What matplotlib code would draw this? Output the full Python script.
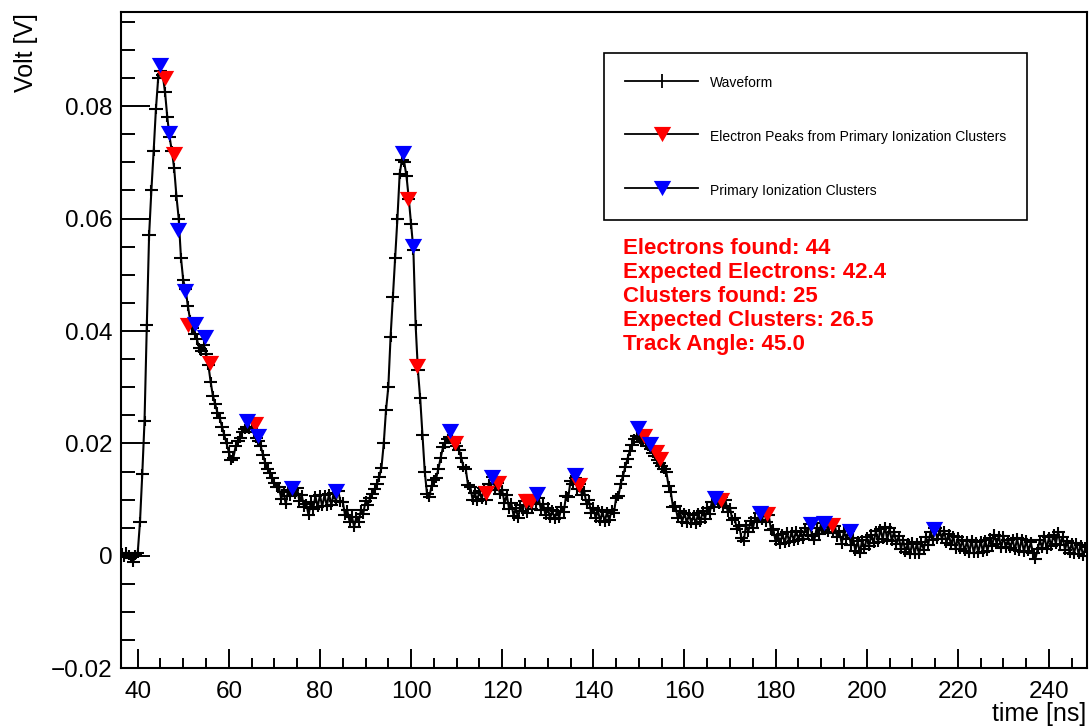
import numpy as np
import matplotlib.pyplot as plt
from matplotlib.lines import Line2D
from matplotlib.ticker import MultipleLocator, FixedLocator, FixedFormatter

plt.rcParams['font.family'] = ['Liberation Sans', 'DejaVu Sans']

# digitizer sampling (ns)
t_start = 36.0
t_step = 0.5

# waveform amplitude in mV, one row per 5 ns starting at t_start
wave_mv = [
    0.3, 0.5, -0.2, 0.6, 0.1, -0.4, -1.1, 0.2, 0.5, 6.0,
    14.5, 24.0, 41.0, 57.0, 65.0, 72.0, 79.5, 85.0, 86.3, 85.5,
    82.5, 78.0, 74.5, 72.0, 69.0, 64.0, 60.0, 53.0, 49.0, 47.5,
    44.5, 42.0, 40.5, 39.5, 38.5, 37.0, 36.5, 37.5, 36.0, 34.0,
    31.0, 28.5, 27.0, 25.5, 24.5, 23.0, 21.5, 20.0, 18.5, 17.0,
    17.5, 19.5, 20.5, 21.0, 22.0, 22.5, 23.0, 22.5, 22.8, 22.0,
    21.0, 20.5, 19.5, 18.0, 16.5, 15.5, 14.8, 13.8, 13.0, 12.2,
    12.2, 10.2, 11.3, 9.2, 11.7, 10.7, 11.8, 11.0, 12.0, 9.7,
    10.8, 8.7, 9.3, 7.2, 9.6, 8.4, 10.6, 8.7, 10.8, 8.8,
    10.8, 8.9, 11.0, 9.0, 11.1, 9.8, 11.6, 9.6, 9.6, 7.3,
    8.1, 6.1, 7.0, 5.2, 6.9, 6.1, 8.2, 7.5, 9.7, 9.1,
    10.3, 11.0, 11.9, 12.8, 14.0, 15.7, 20.0, 26.0, 30.0, 39.0,
    46.0, 53.0, 60.0, 68.0, 70.5, 70.0, 67.5, 63.5, 59.0, 54.5,
    41.0, 33.0, 28.0, 21.5, 15.0, 11.0, 10.5, 12.5, 13.5, 13.8,
    15.5, 17.5, 19.3, 20.0, 20.8, 21.2, 21.0, 20.0, 19.5, 18.8,
    17.5, 15.8, 15.4, 12.6, 12.3, 10.0, 11.2, 9.7, 11.6, 10.1,
    12.0, 10.0, 12.7, 12.3, 14.0, 11.7, 13.0, 11.0, 11.7, 9.4,
    10.8, 8.4, 9.4, 7.1, 8.5, 6.7, 9.0, 8.0, 9.8, 7.7,
    9.6, 8.4, 10.6, 9.2, 10.3, 8.2, 9.2, 7.2, 8.6, 6.7,
    8.1, 6.6, 8.0, 6.8, 8.7, 7.8, 10.6, 10.4, 13.4, 12.7,
    13.9, 11.9, 12.7, 10.8, 11.5, 9.2, 9.9, 7.7, 8.6, 6.7,
    8.1, 6.2, 7.9, 6.1, 7.8, 6.3, 8.2, 7.6, 10.3, 10.6,
    12.8, 14.2, 15.8, 17.3, 18.7, 19.8, 20.8, 21.3, 21.0, 20.3,
    20.5, 20.0, 19.6, 19.0, 18.3, 17.8, 17.0, 16.5, 16.0, 15.4,
    15.0, 12.5, 11.3, 8.7, 8.9, 6.8, 7.9, 6.1, 7.7, 5.9,
    7.4, 5.9, 7.2, 5.7, 7.6, 6.0, 8.0, 6.6, 8.6, 7.5,
    9.6, 8.7, 10.6, 9.3, 10.5, 8.8, 9.9, 7.8, 8.5, 6.4,
    6.7, 4.8, 5.3, 3.2, 2.6, 5.5, 4.2, 6.2, 4.9, 6.7,
    6.0, 7.7, 6.4, 7.8, 6.1, 7.2, 4.6, 4.7, 2.6, 3.7,
    2.2, 3.9, 2.3, 4.2, 2.4, 4.3, 2.7, 4.5, 2.9, 4.3,
    3.0, 5.0, 3.8, 5.7, 3.6, 2.8, 4.9, 3.9, 5.8, 4.6,
    6.2, 4.3, 5.9, 4.1, 5.4, 3.4, 4.3, 2.2, 4.4, 3.0,
    4.5, 2.0, 3.1, 0.9, 2.6, 0.6, 2.8, 1.2, 3.3, 1.7,
    3.8, 2.3, 4.4, 2.5, 4.8, 3.0, 5.2, 2.9, 4.9, 2.7,
    4.3, 2.1, 3.5, 1.3, 2.8, 0.7, 2.2, 0.3, 2.4, 0.4,
    2.2, 0.3, 2.5, 1.1, 3.3, 2.0, 4.3, 2.9, 4.9, 3.0,
    4.5, 3.0, 4.4, 2.3, 3.9, 1.9, 3.5, 1.3, 3.3, 1.2,
    2.8, 0.8, 2.7, 0.6, 2.8, 0.5, 2.5, 0.6, 2.7, 0.7,
    2.9, 0.8, 3.1, 1.7, 3.8, 2.2, 3.6, 1.4, 3.5, 1.5,
    2.9, 1.4, 3.0, 1.0, 3.1, 0.9, 3.0, 0.7, 2.8, 0.8,
    2.4, 0.5, -0.6, 1.2, 2.8, 1.4, 3.5, 1.3, 3.3, 1.8,
    3.8, 2.2, 4.3, 2.0, 3.4, 1.1, 2.6, 0.6, 2.3, 0.4,
    2.3, 0.3, 1.9, 0.0, 1.5,
]

# electron peaks from primary ionization clusters (ns, mV)
elec_t = [46.0, 48.0, 51.0, 55.9, 65.7, 99.3, 101.4, 109.6, 116.4, 119.1,
          125.15, 126.4, 136.8, 151.2, 153.8, 154.6, 168.1, 178.1, 192.4]
elec_mv = [85.1, 71.5, 41.0, 34.4, 23.5, 63.5, 33.8, 20.0, 11.1, 13.0,
           9.8, 9.8, 12.6, 21.4, 18.4, 17.2, 10.0, 7.4, 5.5]

# primary ionization clusters (ns, mV)
clus_t = [44.9, 46.9, 48.8, 50.4, 52.5, 54.8, 63.9, 66.4, 73.9, 83.5,
          98.25, 100.4, 108.5, 117.85, 127.7, 135.9, 149.8, 152.5, 166.8,
          176.5, 187.8, 190.7, 196.4, 214.8]
clus_mv = [87.3, 75.2, 57.9, 47.2, 41.3, 39.0, 24.0, 21.4, 12.1, 11.6,
           71.6, 55.2, 22.3, 14.1, 11.0, 14.4, 22.8, 19.9, 10.3,
           7.7, 5.7, 5.9, 4.5, 4.8]

y_ticks = [-0.02, 0.0, 0.02, 0.04, 0.06, 0.08]
y_tick_labels = ['\u22120.02', '0', '0.02', '0.04', '0.06', '0.08']
x_ticks = [40, 60, 80, 100, 120, 140, 160, 180, 200, 220, 240]

legend_labels = ['Waveform',
                 'Electron Peaks from Primary Ionization Clusters',
                 'Primary Ionization Clusters']

stats_lines = ['Electrons found: 44',
               'Expected Electrons: 42.4',
               'Clusters found: 25',
               'Expected Clusters: 26.5',
               'Track Angle: 45.0']

W, H = 1089, 727
fig = plt.figure(figsize=(W / 100, H / 100), dpi=100)
ax = fig.add_axes([120.7 / W, 1 - 668.3 / H, (1087 - 120.7) / W, (668.3 - 12.3) / H])

times = t_start + t_step * np.arange(len(wave_mv))
volts = np.array(wave_mv) / 1000.0

# inverted triangle, slightly flatter than wide
tri = [(-1, 0.875), (1, 0.875), (0, -0.875), (-1, 0.875)]
msize = 12.5

ax.plot(times, volts, color='k', lw=1.5, zorder=2)
ax.errorbar(times, volts, xerr=1.45, yerr=0.0009, fmt='none',
            ecolor='k', elinewidth=1.5, capsize=0, zorder=2)
ax.plot(elec_t, np.array(elec_mv) / 1000.0, ls='none', marker=tri,
        markersize=msize, markerfacecolor='#ff0000', markeredgewidth=0, zorder=3)
ax.plot(clus_t, np.array(clus_mv) / 1000.0, ls='none', marker=tri,
        markersize=msize, markerfacecolor='#0000ff', markeredgewidth=0, zorder=4)

ax.set_xlim(36.27, 248.34)
ax.set_ylim(-0.02, 0.0967)

ax.xaxis.set_major_locator(FixedLocator(x_ticks))
ax.xaxis.set_minor_locator(MultipleLocator(5))
ax.yaxis.set_major_locator(FixedLocator(y_ticks))
ax.yaxis.set_major_formatter(FixedFormatter(y_tick_labels))
ax.yaxis.set_minor_locator(MultipleLocator(0.005))

ax.tick_params(axis='both', which='both', direction='in', width=1.4,
               labelsize=17.5, top=False, right=False)
ax.tick_params(axis='y', which='major', length=21, pad=6)
ax.tick_params(axis='y', which='minor', length=10)
ax.tick_params(axis='x', which='major', length=14, pad=9)
ax.tick_params(axis='x', which='minor', length=7)
for sp in ax.spines.values():
    sp.set_linewidth(1.5)

fig.text(33 / W, 1 - 12.7 / H, 'Volt [V]', rotation=90, rotation_mode='anchor',
         ha='right', va='baseline', fontsize=18)
fig.text(1086 / W, 1 - 721 / H, 'time [ns]', ha='right', va='baseline',
         fontsize=18)

handles = [
    Line2D([], [], color='k', lw=1.3, marker='|', markersize=10,
           markeredgewidth=1.3, markeredgecolor='k'),
    Line2D([], [], color='k', lw=1.3, marker=tri, markersize=msize,
           markerfacecolor='#ff0000', markeredgewidth=0),
    Line2D([], [], color='k', lw=1.3, marker=tri, markersize=msize,
           markerfacecolor='#0000ff', markeredgewidth=0),
]
leg = ax.legend(handles, legend_labels, loc='upper left',
                bbox_to_anchor=(604 / W, 1 - 53 / H), bbox_transform=fig.transFigure,
                borderaxespad=0, fontsize=10, fancybox=False, framealpha=1,
                edgecolor='k', borderpad=1.5, labelspacing=2.58, handleheight=1.6,
                handlelength=5.3, handletextpad=0.85, numpoints=1)
leg.get_frame().set_linewidth(1.2)

baselines = [254.3, 277.8, 302.3, 326.3, 350.3]
for line, b in zip(stats_lines, baselines):
    fig.text(622.7 / W, 1 - b / H, line, color='#ff0000', fontsize=16,
             fontweight='bold', ha='left', va='baseline')

fig.savefig('out.png', dpi=100)
